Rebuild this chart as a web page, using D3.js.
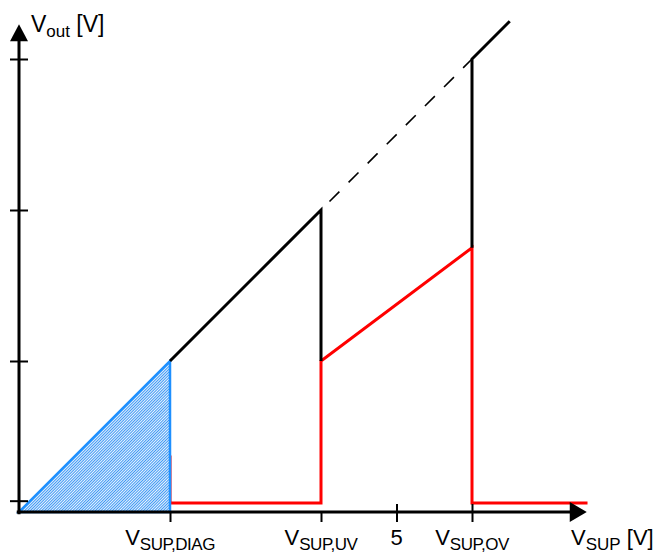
<!DOCTYPE html>
<html>
<head>
<meta charset="utf-8">
<script src="https://cdn.jsdelivr.net/npm/d3@7"></script>
<style>
  body { margin: 0; background: #fff; }
  text { font-family: "Liberation Sans", Arial, sans-serif; }
</style>
</head>
<body>
<div id="chart"></div>
<script>
// x ticks and their labels (main + subscript)
const xTickVals = [2, 4, 5, 6];
const xTickMain = ["V", "V", "5", "V"];
const xTickSub = ["SUP,DIAG", "SUP,UV", "", "SUP,OV"];
const xTickCross = [false, false, true, true];

const yTickVals = [0.15, 2, 4, 6];

// curves [x, y]
const blueArea = [[0, 0], [2, 0], [2, 2]];
const blackSolid = [
    [[2, 2], [4, 4], [4, 2]],
    [[6, 3.5], [6, 6], [6.5, 6.5]]
];
const blackDashed = [[4, 4], [6, 6]];
const redLine = [[2, 0.75], [2, 0.12], [4, 0.12], [4, 2], [6, 3.5], [6, 0.12], [7.53, 0.12]];

const width = 662, height = 555;
const x0 = 19, y0 = 512, unit = 75.5;

const svg = d3.select("#chart").append("svg")
    .attr("width", width)
    .attr("height", height);

const x = d3.scaleLinear().domain([0, 1]).range([x0, x0 + unit]);
const y = d3.scaleLinear().domain([0, 1]).range([y0, y0 - unit]);

// hatch pattern for the blue triangle
const defs = svg.append("defs");
const pat = defs.append("pattern")
    .attr("id", "hatch")
    .attr("patternUnits", "userSpaceOnUse")
    .attr("width", 2).attr("height", 2)
    .attr("patternTransform", "rotate(45)");
pat.append("rect").attr("width", 2).attr("height", 2).attr("fill", "#ffffff");
pat.append("rect").attr("width", 1.1).attr("height", 2).attr("fill", "#3d98f5");

const line = d3.line().x(d => x(d[0])).y(d => y(d[1]));

// red curve (under the triangle)
svg.append("path")
    .datum(redLine)
    .attr("d", line)
    .attr("fill", "none")
    .attr("stroke", "#ff0000")
    .attr("stroke-width", 3);

// blue hatched triangle
svg.append("path")
    .datum(blueArea)
    .attr("d", line.curve(d3.curveLinearClosed))
    .attr("fill", "url(#hatch)")
    .attr("stroke", "#1e90ff")
    .attr("stroke-width", 2.5)
    .attr("stroke-linejoin", "miter");
line.curve(d3.curveLinear);

// black lines
svg.selectAll(".black")
    .data(blackSolid)
    .enter().append("path")
    .attr("class", "black")
    .attr("d", line)
    .attr("fill", "none")
    .attr("stroke", "#000")
    .attr("stroke-width", 3);

svg.append("path")
    .datum(blackDashed)
    .attr("d", line)
    .attr("fill", "none")
    .attr("stroke", "#000")
    .attr("stroke-width", 1.6)
    .attr("stroke-dasharray", "14,13")
    .attr("stroke-dashoffset", -12);

// axes
const xEnd = 7.52, yEnd = 6.46;

const xAxis = d3.axisBottom(x)
    .tickValues(xTickVals)
    .tickSizeInner(10)
    .tickSizeOuter(0)
    .tickFormat("");
const gx = svg.append("g")
    .attr("transform", `translate(0,${y0})`)
    .call(xAxis);
gx.select(".domain").remove();
gx.selectAll(".tick line")
    .attr("stroke-width", 2)
    .attr("y1", (d, i) => xTickCross[i] ? -8 : 0);

const yAxis = d3.axisLeft(y)
    .tickValues(yTickVals)
    .tickSizeInner(9)
    .tickSizeOuter(0)
    .tickFormat("");
const gy = svg.append("g")
    .attr("transform", `translate(${x0},0)`)
    .call(yAxis);
gy.select(".domain").remove();
gy.selectAll(".tick line")
    .attr("stroke-width", 2)
    .attr("x2", -9)
    .attr("x1", 9);

// axis lines with arrows
svg.append("line")
    .attr("x1", x(-0.03)).attr("x2", x(xEnd) - 14)
    .attr("y1", y0).attr("y2", y0)
    .attr("stroke", "#000").attr("stroke-width", 3);
svg.append("path")
    .attr("d", `M${x(xEnd)},${y0} L${x(xEnd) - 17},${y0 - 10} L${x(xEnd) - 17},${y0 + 10} Z`)
    .attr("fill", "#000");

svg.append("line")
    .attr("x1", x0).attr("x2", x0)
    .attr("y1", y(-0.03)).attr("y2", y(yEnd) + 14)
    .attr("stroke", "#000").attr("stroke-width", 3);
svg.append("path")
    .attr("d", `M${x0},${y(yEnd)} L${x0 - 9},${y(yEnd) + 17} L${x0 + 9},${y(yEnd) + 17} Z`)
    .attr("fill", "#000");

// tick labels
const labels = svg.selectAll(".xlab")
    .data(xTickVals)
    .enter().append("text")
    .attr("class", "xlab")
    .attr("x", d => x(d))
    .attr("y", 545)
    .attr("text-anchor", "middle")
    .attr("font-size", 22);
labels.append("tspan").text((d, i) => xTickMain[i]);
labels.append("tspan")
    .attr("font-size", 17)
    .attr("dy", 5)
    .attr("letter-spacing", -0.5)
    .text((d, i) => xTickSub[i]);

// axis titles
const xt = svg.append("text")
    .attr("x", 571).attr("y", 545)
    .attr("font-size", 22);
xt.append("tspan").text("V");
xt.append("tspan").attr("font-size", 17).attr("dy", 5).text("SUP");
xt.append("tspan").attr("dy", -5).text(" [V]");

const yt = svg.append("text")
    .attr("x", 31).attr("y", 32)
    .attr("font-size", 23);
yt.append("tspan").text("V");
yt.append("tspan").attr("font-size", 17).attr("dy", 5).text("out");
yt.append("tspan").attr("dy", -5).text(" [V]");
</script>
</body>
</html>
